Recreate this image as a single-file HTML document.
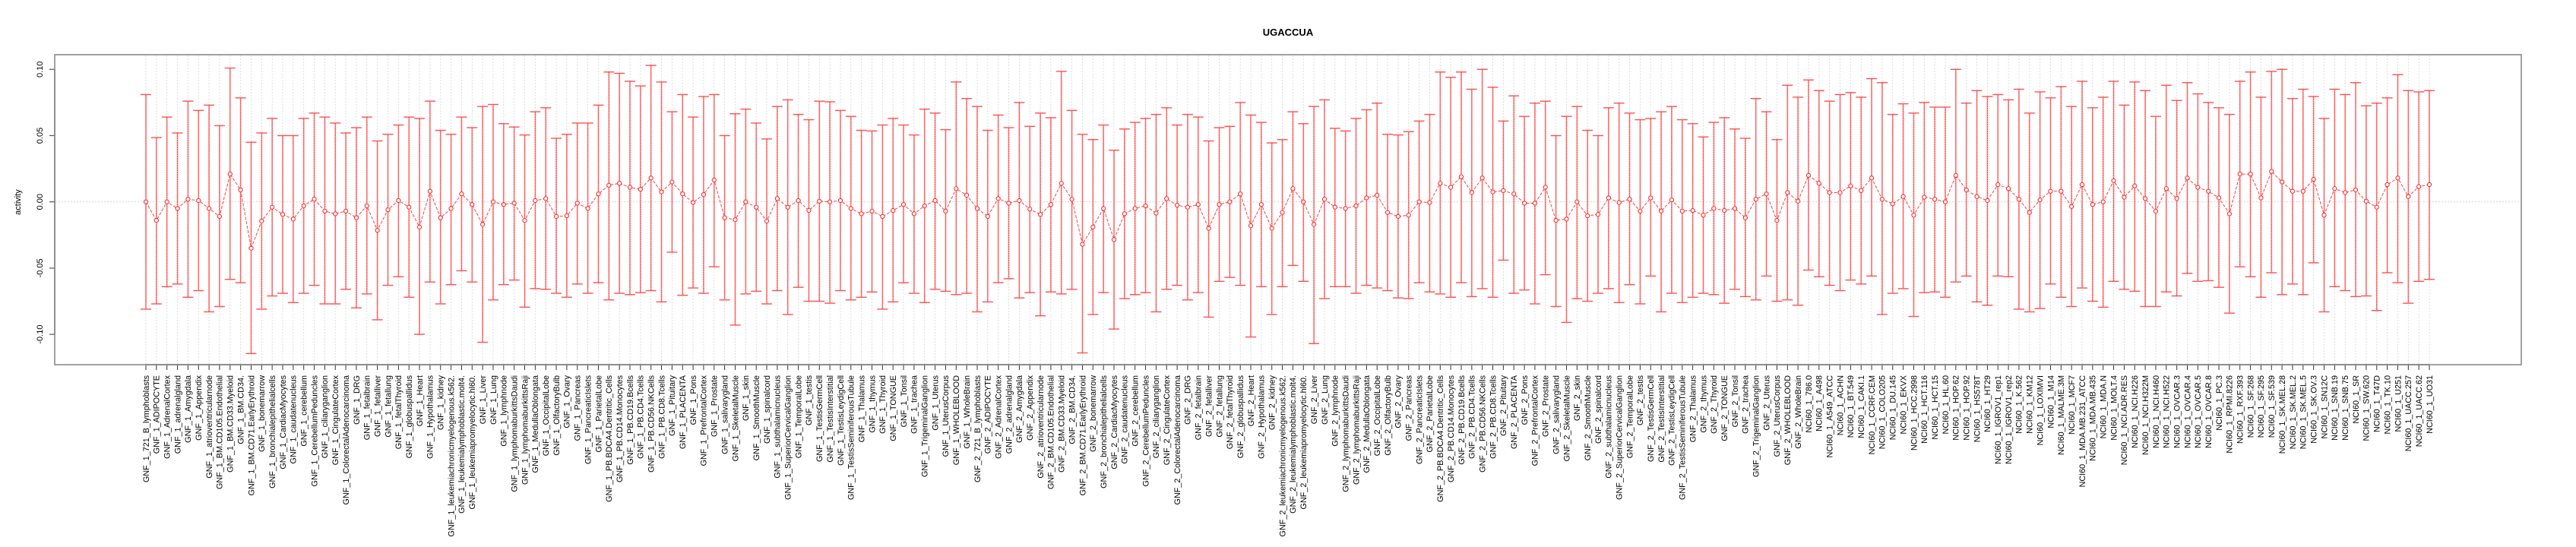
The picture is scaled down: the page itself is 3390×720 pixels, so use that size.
<!DOCTYPE html>
<html><head><meta charset="utf-8"><style>
html,body{margin:0;padding:0;background:#fff;}
svg{display:block;font-family:"Liberation Sans",sans-serif;}
</style></head><body>
<svg id="chart" width="3390" height="720" viewBox="0 0 3390 720" xmlns="http://www.w3.org/2000/svg">
<text x="1695" y="47" text-anchor="middle" font-weight="bold" font-size="13">UGACCUA</text>
<text transform="translate(27,266) rotate(-90)" text-anchor="middle" font-size="11">activity</text>
<g id="grid"></g>
<g id="yaxis"></g>
<g id="xaxis"></g>
<g id="series"></g>
<rect x="72" y="72" width="3246" height="408" fill="none" stroke="#8a8a8a" stroke-width="1.6"/>
</svg>
<script>
const tissues = ["721_B_lymphoblasts","ADIPOCYTE","AdrenalCortex","adrenalgland","Amygdala","Appendix","atrioventricularnode","BM.CD105.Endothelial","BM.CD33.Myeloid","BM.CD34.","BM.CD71.EarlyErythroid","bonemarrow","bronchialepithelialcells","CardiacMyocytes","caudatenucleus","cerebellum","CerebellumPeduncles","ciliaryganglion","CingulateCortex","ColorectalAdenocarcinoma","DRG","fetalbrain","fetalliver","fetallung","fetalThyroid","globuspallidus","Heart","Hypothalamus","kidney","leukemiachronicmyelogenous.k562.","leukemialymphoblastic.molt4.","leukemiapromyelocytic.hl60.","Liver","Lung","lymphnode","lymphomaburkittsDaudi","lymphomaburkittsRaji","MedullaOblongata","OccipitalLobe","OlfactoryBulb","Ovary","Pancreas","PancreaticIslets","ParietalLobe","PB.BDCA4.Dentritic_Cells","PB.CD14.Monocytes","PB.CD19.Bcells","PB.CD4.Tcells","PB.CD56.NKCells","PB.CD8.Tcells","Pituitary","PLACENTA","Pons","PrefrontalCortex","Prostate","salivarygland","SkeletalMuscle","skin","SmoothMuscle","spinalcord","subthalamicnucleus","SuperiorCervicalGanglion","TemporalLobe","testis","TestisGermCell","TestisInterstitial","TestisLeydigCell","TestisSeminiferousTubule","Thalamus","thymus","Thyroid","TONGUE","Tonsil","trachea","TrigeminalGanglion","Uterus","UterusCorpus","WHOLEBLOOD","WholeBrain"];
const cellLines = ["786.0","A498","A549_ATCC","ACHN","BT.549","CAKI.1","CCRF.CEM","COLO205","DU.145","EKVX","HCC.2998","HCT.116","HCT.15","HL.60","HOP.62","HOP.92","HS578T","HT29","IGROV1_rep1","IGROV1_rep2","K.562","KM12","LOXIMVI","M14","MALME.3M","MCF7","MDA.MB.231_ATCC","MDA.MB.435","MDA.N","MOLT.4","NCI.ADR.RES","NCI.H226","NCI.H322M","NCI.H460","NCI.H522","OVCAR.3","OVCAR.4","OVCAR.5","OVCAR.8","PC.3","RPMI.8226","RXF.393","SF.268","SF.295","SF.539","SK.MEL.28","SK.MEL.2","SK.MEL.5","SK.OV.3","SN12C","SNB.19","SNB.75","SR","SW.620","T47D","TK.10","U251","UACC.257","UACC.62","UO31"];
const categories = tissues.map(t=>"GNF_1_"+t).concat(tissues.map(t=>"GNF_2_"+t), cellLines.map(c=>"NCI60_1_"+c));
const means = [0,-0.014,0,-0.005,0.002,0.001,-0.005,-0.011,0.021,0.009,-0.035,-0.0145,-0.004,-0.0095,-0.013,-0.003,0.002,-0.007,-0.009,-0.007,-0.012,-0.003,-0.0215,-0.006,0.001,-0.004,-0.019,0.008,-0.012,-0.005,0.006,-0.002,-0.017,0,-0.002,-0.001,-0.014,0.001,0.0025,
-0.011,-0.0105,-0.001,-0.005,0.006,0.0125,0.014,0.011,0.0095,0.018,0.0075,0.015,0.006,-0.0005,0.0055,0.0165,-0.012,-0.0135,0,-0.004,-0.0145,0.0025,-0.004,0.001,-0.0065,0.0005,0,0.001,-0.005,-0.009,-0.007,-0.011,-0.0065,-0.002,-0.009,-0.003,0.001,-0.007,0.010,0.005,
-0.005,-0.011,0.0025,-0.001,0.001,-0.0055,-0.0095,-0.002,0.014,0.002,-0.032,-0.019,-0.005,-0.0285,-0.009,-0.005,-0.003,-0.0085,0.0025,-0.0025,-0.004,-0.002,-0.020,-0.002,0,0.006,-0.018,-0.002,-0.020,-0.008,0.010,0,-0.017,0.002,-0.004,-0.005,-0.003,0.003,
0.005,-0.008,-0.011,-0.010,0,-0.0005,0.014,0.011,0.019,0.007,0.018,0.0075,0.0085,0.006,-0.001,-0.001,0.011,-0.014,-0.013,0,-0.0105,-0.0095,0.003,-0.0005,0.002,-0.007,0.003,-0.007,0.0015,-0.007,-0.0065,-0.010,-0.005,-0.0065,-0.005,-0.012,0.002,0.006,-0.014,0.007,0.0005,
0.020,0.014,0.007,0.007,0.012,0.0085,0.018,0.002,-0.0015,0.004,-0.010,0.0035,0.002,0,0.020,0.009,0.004,0.001,0.013,0.010,0.002,-0.008,0.0015,0.008,0.008,-0.0035,0.013,-0.002,0,0.016,0.0035,0.012,0.0025,-0.007,0.010,0.0025,0.018,0.011,0.008,0.003,-0.009,0.021,0.021,0.003,0.023,0.015,0.008,0.008,0.017,-0.010,0.010,0.007,0.009,0.0005,-0.004,0.013,0.018,0.004,0.0115,0.013];
const uppers = [0.081,0.0485,0.064,0.052,0.076,0.069,0.073,0.0575,0.101,0.0785,0.045,0.052,0.063,0.05,0.05,0.063,0.067,0.064,0.0595,0.052,0.056,0.064,0.046,0.051,0.058,0.064,0.063,0.076,0.054,0.051,0.064,0.056,0.072,0.0735,0.059,0.0565,0.0505,0.068,0.071,
0.048,0.051,0.0595,0.0595,0.073,0.098,0.097,0.091,0.0875,0.103,0.0905,0.068,0.081,0.064,0.0795,0.081,0.050,0.0665,0.070,0.0595,0.0475,0.072,0.077,0.066,0.062,0.076,0.0755,0.069,0.0645,0.054,0.0535,0.058,0.063,0.058,0.0505,0.070,0.067,0.0545,0.0905,0.078,
0.072,0.054,0.0655,0.056,0.075,0.057,0.067,0.0635,0.0985,0.069,0.051,0.047,0.058,0.039,0.055,0.060,0.063,0.066,0.071,0.058,0.066,0.064,0.046,0.056,0.057,0.075,0.0655,0.060,0.0445,0.047,0.068,0.059,0.072,0.077,0.0555,0.0535,0.063,0.0695,
0.0745,0.051,0.0505,0.053,0.061,0.066,0.098,0.094,0.098,0.085,0.100,0.0865,0.061,0.080,0.0645,0.0745,0.076,0.050,0.0645,0.072,0.054,0.050,0.071,0.0745,0.067,0.062,0.063,0.068,0.072,0.062,0.059,0.049,0.060,0.0635,0.055,0.048,0.078,0.068,0.047,0.088,0.079,
0.092,0.084,0.076,0.081,0.0825,0.079,0.093,0.090,0.066,0.074,0.067,0.075,0.0715,0.0715,0.100,0.0745,0.084,0.0795,0.081,0.077,0.085,0.067,0.083,0.0785,0.087,0.072,0.091,0.071,0.079,0.091,0.073,0.0905,0.084,0.0645,0.088,0.0765,0.090,0.0815,0.075,0.071,0.066,0.091,0.098,0.079,0.0985,0.100,0.078,0.085,0.0795,0.063,0.085,0.081,0.090,0.0725,0.0745,0.0785,0.096,0.084,0.083,0.084];
const lowers = [-0.081,-0.077,-0.064,-0.062,-0.072,-0.067,-0.083,-0.079,-0.0585,-0.061,-0.1145,-0.081,-0.071,-0.069,-0.076,-0.069,-0.063,-0.077,-0.077,-0.066,-0.08,-0.0695,-0.089,-0.063,-0.0565,-0.072,-0.100,-0.0605,-0.077,-0.0625,-0.052,-0.0605,-0.106,-0.074,-0.0625,-0.059,-0.0795,-0.0655,-0.066,
-0.069,-0.072,-0.062,-0.069,-0.061,-0.074,-0.069,-0.070,-0.0685,-0.067,-0.0755,-0.038,-0.0705,-0.065,-0.069,-0.049,-0.074,-0.093,-0.0695,-0.0675,-0.077,-0.067,-0.085,-0.0645,-0.075,-0.075,-0.0765,-0.067,-0.074,-0.072,-0.068,-0.081,-0.0755,-0.061,-0.069,-0.076,-0.066,-0.0675,-0.070,-0.069,
-0.083,-0.0755,-0.061,-0.058,-0.0725,-0.0685,-0.086,-0.068,-0.0695,-0.066,-0.114,-0.085,-0.0685,-0.096,-0.073,-0.070,-0.0685,-0.083,-0.066,-0.063,-0.074,-0.0685,-0.087,-0.060,-0.057,-0.063,-0.102,-0.064,-0.085,-0.064,-0.048,-0.060,-0.107,-0.073,-0.064,-0.064,-0.069,-0.063,
-0.065,-0.067,-0.0725,-0.073,-0.061,-0.068,-0.0695,-0.072,-0.061,-0.0715,-0.0655,-0.072,-0.044,-0.069,-0.0665,-0.077,-0.055,-0.079,-0.091,-0.073,-0.075,-0.069,-0.0655,-0.076,-0.0625,-0.077,-0.056,-0.083,-0.069,-0.076,-0.072,-0.069,-0.070,-0.0765,-0.066,-0.0715,-0.074,-0.056,-0.075,-0.074,-0.078,
-0.0515,-0.0565,-0.063,-0.067,-0.059,-0.062,-0.056,-0.085,-0.069,-0.0655,-0.0865,-0.0685,-0.068,-0.072,-0.0605,-0.056,-0.0755,-0.078,-0.056,-0.0565,-0.081,-0.083,-0.0805,-0.062,-0.072,-0.079,-0.065,-0.075,-0.0795,-0.060,-0.066,-0.0675,-0.079,-0.079,-0.068,-0.071,-0.054,-0.060,-0.0595,-0.0645,-0.084,-0.049,-0.0565,-0.072,-0.0535,-0.070,-0.062,-0.070,-0.046,-0.083,-0.064,-0.067,-0.0715,-0.071,-0.082,-0.0535,-0.061,-0.0765,-0.060,-0.0585];
const yTicks = [0.10,0.05,0.00,-0.05,-0.10];
const yTickLabels = ["0.10","0.05","0.00","-0.05","-0.10"];

const NS="http://www.w3.org/2000/svg";
const n = categories.length;
function xScale(i){ return 192 + i*(3197-192)/(n-1); }
function yScale(v){ return 265.7 - v*1744; }
function mk(tag, attrs, parent){ const e=document.createElementNS(NS,tag); for(const k in attrs) e.setAttribute(k,attrs[k]); parent.appendChild(e); return e; }

const grid=document.getElementById('grid'), yaxis=document.getElementById('yaxis'), xaxis=document.getElementById('xaxis'), series=document.getElementById('series');

const hz = mk('line',{x1:73,x2:3317,y1:yScale(0),y2:yScale(0),stroke:'#d8d8d8','stroke-width':1.2,'stroke-dasharray':'2,2'},grid);



const yl = mk('line',{x1:72,x2:72,y1:yScale(0.10),y2:yScale(-0.10),stroke:'#555','stroke-width':1.5},yaxis);


yTicks.forEach((v,k)=>{
  const y=yScale(v);
  const t=mk('line',{x1:65,x2:72,y1:y,y2:y,stroke:'#555','stroke-width':1.2},yaxis);
  
  
  const tx=mk('text',{transform:`translate(56,${y}) rotate(-90)`,'text-anchor':'middle','font-size':11},yaxis);
  tx.textContent=yTickLabels[k];
  
  
});

const xl = mk('line',{x1:xScale(0),x2:xScale(n-1),y1:480,y2:480,stroke:'#333','stroke-width':1.5},xaxis);



for(let i=0;i<n;i++){
  const x=xScale(i);
  const g=mk('line',{x1:x,x2:x,y1:73,y2:479,stroke:'#d5d5d5','stroke-width':0.8,'stroke-dasharray':'2,2'},grid);
  
  
  const t=mk('line',{x1:x,x2:x,y1:480,y2:487,stroke:'#333','stroke-width':1},xaxis);
  
  
  const lb=mk('text',{transform:`translate(${x+3.8},494) rotate(-90)`,'text-anchor':'end','font-size':10.8},xaxis);
  lb.textContent=categories[i];
  
  
}

let pts=[];
for(let i=0;i<n;i++){
  const x=xScale(i), yt=yScale(uppers[i]), yb=yScale(lowers[i]);
  const eg=mk('g',{},series);
  
  
  mk('line',{x1:x,x2:x,y1:yt,y2:yb,stroke:'#ff9a9a','stroke-width':1.8},eg);
  mk('line',{x1:x,x2:x,y1:yt,y2:yb,stroke:'#ff3030','stroke-width':0.8,'stroke-dasharray':'2,1'},eg);
  mk('line',{x1:x-7,x2:x+7,y1:yt,y2:yt,stroke:'#ff5050','stroke-width':1.4},eg);
  mk('line',{x1:x-7,x2:x+7,y1:yb,y2:yb,stroke:'#ff5050','stroke-width':1.4},eg);
  pts.push(x.toFixed(2)+','+yScale(means[i]).toFixed(2));
}
const pl=mk('polyline',{points:pts.join(' '),fill:'none',stroke:'#ff4040','stroke-width':1,'stroke-dasharray':'4,2'},series);


for(let i=0;i<n;i++){
  const c=mk('circle',{cx:xScale(i),cy:yScale(means[i]),r:2.6,fill:'#fff',stroke:'#ff2020','stroke-width':1},series);
  
  
}
</script>
</body></html>
